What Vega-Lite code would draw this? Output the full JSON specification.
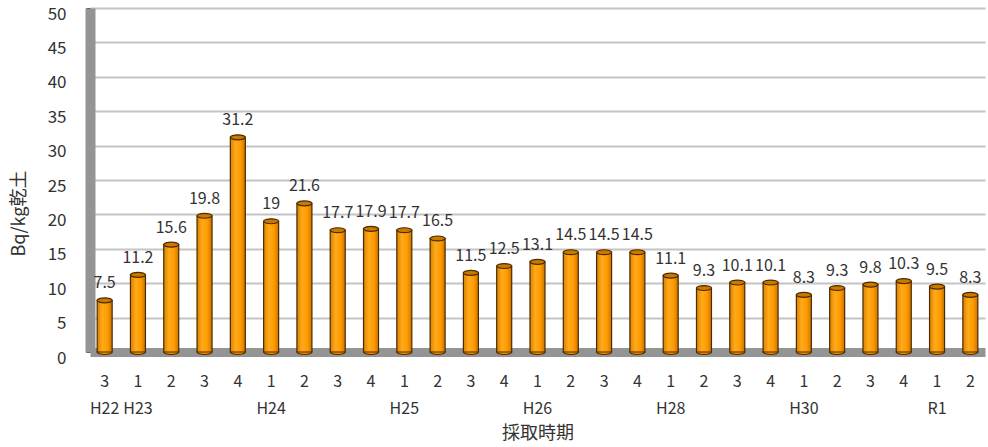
{
  "$schema": "https://vega.github.io/schema/vega-lite/v6.json",
  "width": 895,
  "height": 344,
  "autosize": {"type": "none"},
  "padding": {"left": 90, "top": 8, "right": 3, "bottom": 95},
  "background": "white",
  "config": {
    "view": {"stroke": null},
    "font": "Noto Sans CJK JP",
    "text": {"font": "Noto Sans CJK JP"}
  },
  "data": {
    "values": [
      {"key": "H22-3", "value": 7.5},
      {"key": "H23-1", "value": 11.2},
      {"key": "H23-2", "value": 15.6},
      {"key": "H23-3", "value": 19.8},
      {"key": "H23-4", "value": 31.2},
      {"key": "H24-1", "value": 19},
      {"key": "H24-2", "value": 21.6},
      {"key": "H24-3", "value": 17.7},
      {"key": "H24-4", "value": 17.9},
      {"key": "H25-1", "value": 17.7},
      {"key": "H25-2", "value": 16.5},
      {"key": "H25-3", "value": 11.5},
      {"key": "H25-4", "value": 12.5},
      {"key": "H26-1", "value": 13.1},
      {"key": "H26-2", "value": 14.5},
      {"key": "H26-3", "value": 14.5},
      {"key": "H26-4", "value": 14.5},
      {"key": "H28-1", "value": 11.1},
      {"key": "H28-2", "value": 9.3},
      {"key": "H28-3", "value": 10.1},
      {"key": "H28-4", "value": 10.1},
      {"key": "H30-1", "value": 8.3},
      {"key": "H30-2", "value": 9.3},
      {"key": "H30-3", "value": 9.8},
      {"key": "H30-4", "value": 10.3},
      {"key": "R1-1", "value": 9.5},
      {"key": "R1-2", "value": 8.3}
    ]
  },
  "encoding": {
    "x": {
      "field": "key",
      "type": "ordinal",
      "sort": null,
      "scale": {"paddingInner": 0.12, "paddingOuter": 0},
      "axis": {
        "title": "採取時期",
        "titleFontSize": 18,
        "titleFontWeight": "normal",
        "titleColor": "#333333",
        "titlePadding": 8,
        "labelAngle": 0,
        "labelFontSize": 16,
        "labelColor": "#333333",
        "labelPadding": 21,
        "labelLineHeight": 27,
        "labelBaseline": "top",
        "ticks": false,
        "domainColor": "#949494",
        "domainWidth": 9,
        "labelExpr": "[split(datum.value,'-')[1], (split(datum.value,'-')[1]=='1' || datum.value=='H22-3') ? split(datum.value,'-')[0] : '']"
      }
    },
    "y": {
      "field": "value",
      "type": "quantitative",
      "scale": {"domain": [0, 50], "nice": false},
      "axis": {
        "title": "Bq/kg乾土",
        "titleFontSize": 18,
        "titleFontWeight": "normal",
        "titleColor": "#333333",
        "titleX": -62,
        "titleY": 205,
        "values": [0,1,2,3,4,5,6,7,8,9,10,11,12,13,14,15,16,17,18,19,20,21,22,23,24,25,26,27,28,29,30,31,32,33,34,35,36,37,38,39,40,41,42,43,44,45,46,47,48,49,50],
        "labelExpr": "datum.value % 5 === 0 ? datum.label : ''",
        "labelFontSize": 17,
        "labelColor": "#333333",
        "labelPadding": 20,
        "labelOffset": 6,
        "tickColor": "#333333",
        "tickSize": 4,
        "tickWidth": 1,
        "domainColor": "#949494",
        "domainWidth": 10,
        "grid": true,
        "gridColor": "#c4c4c4",
        "gridWidth": 2,
        "gridOpacity": {"condition": {"test": "datum.value % 5 === 0 && datum.value > 0", "value": 1}, "value": 0}
      }
    }
  },
  "layer": [
    {
      "mark": {
        "type": "point",
        "shape": "M-1,0A1,0.33,0,1,0,1,0A1,0.33,0,1,0,-1,0Z",
        "size": 225,
        "filled": true,
        "fill": "#f29400",
        "stroke": "#4d2a00",
        "strokeWidth": 1.2,
        "opacity": 1
      },
      "encoding": {"y": {"datum": 0}}
    },
    {
      "mark": {
        "type": "bar",
        "width": 15,
        "fill": {
          "gradient": "linear",
          "x1": 0, "x2": 1, "y1": 0, "y2": 0,
          "stops": [
            {"offset": 0, "color": "#d98200"},
            {"offset": 0.35, "color": "#ffaa1a"},
            {"offset": 0.7, "color": "#ff9a00"},
            {"offset": 1, "color": "#c87400"}
          ]
        },
        "stroke": "#4d2a00",
        "strokeWidth": 1.2
      }
    },
    {
      "mark": {
        "type": "point",
        "shape": "M-1,0A1,0.33,0,1,0,1,0A1,0.33,0,1,0,-1,0Z",
        "size": 225,
        "filled": true,
        "fill": "#c97800",
        "stroke": "#4d2a00",
        "strokeWidth": 1.2,
        "opacity": 1
      }
    },
    {
      "mark": {
        "type": "text",
        "baseline": "bottom",
        "dy": -9,
        "fontSize": 16,
        "color": "#333333"
      },
      "encoding": {"text": {"field": "value", "type": "quantitative"}}
    }
  ]
}
